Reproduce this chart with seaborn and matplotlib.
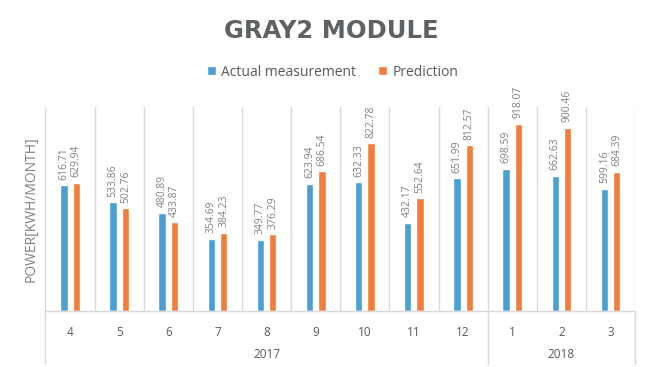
import matplotlib
matplotlib.use("Agg")
import matplotlib.pyplot as plt
import matplotlib.transforms as mtrans
import seaborn as sns
import pandas as pd

months = ["4", "5", "6", "7", "8", "9", "10", "11", "12", "1", "2", "3"]
years = ["2017", "2018"]
year_span = [9, 3]
actual = [616.71, 533.86, 480.89, 354.69, 349.77, 623.94, 632.33, 432.17, 651.99, 698.59, 662.63, 599.16]
prediction = [629.94, 502.76, 433.87, 384.23, 376.29, 686.54, 822.78, 552.64, 812.57, 918.07, 900.46, 684.39]
series = ["Actual measurement", "Prediction"]
colors = ["#4A9FD4", "#F27D3A"]

df = pd.DataFrame({
    "month": months * 2,
    "value": actual + prediction,
    "series": [series[0]] * len(months) + [series[1]] * len(months),
})

sns.set_theme(style="white")
plt.rcParams["font.family"] = ["Open Sans", "DejaVu Sans"]

fig = plt.figure(figsize=(6.63, 3.67), dpi=100)
ax = fig.add_axes([0.0686, 0.1534, 0.8892, 0.5542])

sns.barplot(data=df, x="month", y="value", hue="series", order=months,
            hue_order=series, palette=colors, width=0.5, gap=0.4,
            ax=ax, saturation=1, errorbar=None)

for cont in ax.containers:
    ax.bar_label(cont, fmt="{:.2f}", rotation=90, padding=4,
                 fontsize=7.5, color="#808080")

ax.set_ylim(0, 1000)
ax.set_xlim(-0.5, len(months) - 0.5)
ax.set_yticks([])
ax.set_xlabel("")
ax.set_ylabel("POWER[KWH/MONTH]", fontsize=10, color="#7f7f7f", labelpad=5)

ax.tick_params(axis="x", length=0, pad=11, labelsize=8.5, labelcolor="#595959")
ax.set_xticks(range(len(months)))
ax.set_xticklabels(months)

grid_c = "#d9d9d9"
for s in ["top", "right", "left"]:
    ax.spines[s].set_visible(False)
ax.spines["bottom"].set_color(grid_c)
ax.spines["bottom"].set_linewidth(1.0)

for b in [i - 0.5 for i in range(len(months) + 1)]:
    ax.axvline(b, color=grid_c, lw=1.0, zorder=0)

# year level
trans = mtrans.blended_transform_factory(ax.transData, ax.transAxes)
start = 0
bounds = [-0.5]
for y, span in zip(years, year_span):
    center = start + (span - 1) / 2
    ax.text(center, -0.215, y, transform=trans, ha="center", va="center",
            fontsize=8.5, color="#595959")
    start += span
    bounds.append(start - 0.5)
for b in bounds:
    ax.plot([b, b], [0, -0.26], transform=trans, color=grid_c, lw=1.0, clip_on=False)

handles, labels = ax.get_legend_handles_labels()
ax.get_legend().remove()
fig.legend(handles, labels, loc="center", bbox_to_anchor=(0.502, 0.803), ncol=2,
           frameon=False, fontsize=10, handlelength=0.6, handleheight=0.6,
           handletextpad=0.4, columnspacing=1.6, labelcolor="#595959")

fig.text(0.5, 0.915, "GRAY2 MODULE", ha="center", va="center", fontsize=17.5,
         fontweight="bold", color="#5f6264", family=["DejaVu Sans"])

fig.savefig("out.png", dpi=100)
